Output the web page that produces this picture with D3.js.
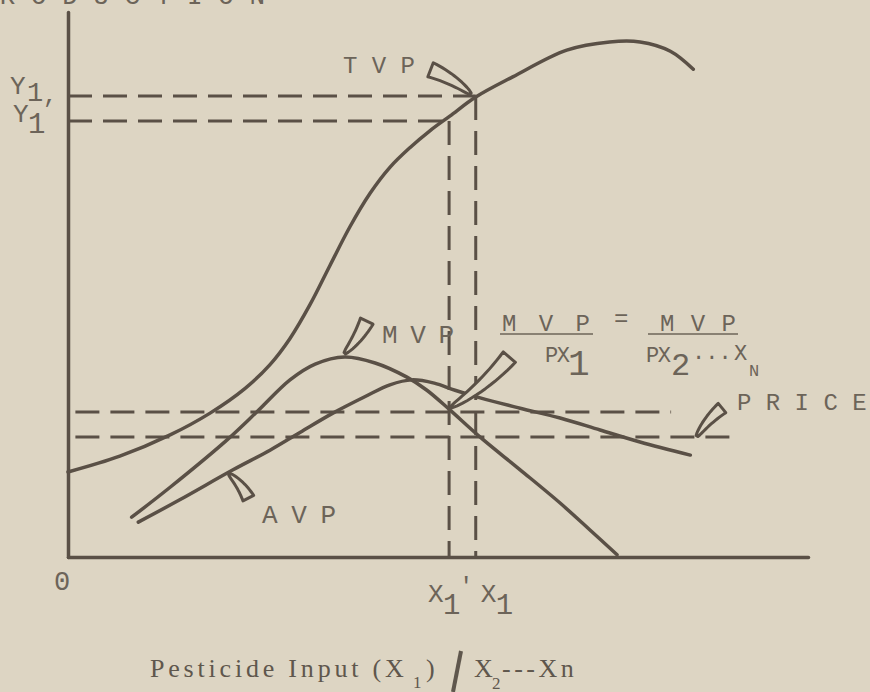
<!DOCTYPE html>
<html>
<head>
<meta charset="utf-8">
<script src="https://cdn.jsdelivr.net/npm/d3@7"></script>
<style>
  body { margin: 0; background: #ddd5c3; }
  svg { display: block; }
  .lbl { font-family: "Liberation Mono", "DejaVu Sans Mono", monospace; fill: #6c6459; }
  .serif { font-family: "Liberation Serif", "DejaVu Serif", serif; fill: #5f574d; }
</style>
</head>
<body>
<div id="chart"></div>
<script>
// curve values (x and y both on a 0-100 scale)
const tvpX = [0, 7.0, 13.8, 19.2, 23.9, 27.3, 30.0, 32.7, 35.4, 38.1, 40.8, 43.5, 46.2, 48.9, 51.6, 55.1, 60.1, 67.4, 73.2, 77.3, 81.4, 84.5]
const tvpY = [15.6, 18.5, 22.4, 26.4, 30.9, 35.3, 40.1, 46.3, 53.5, 60.6, 66.7, 71.5, 75.1, 78.2, 80.9, 84.4, 88.1, 93.0, 94.5, 94.5, 92.8, 89.5]

const mvpX = [8.6, 13.8, 21.5, 25.5, 30.0, 33.4, 37.4, 41.5, 45.8, 48.5, 51.6, 55.7, 61.1, 66.5, 70.5, 74.2]
const mvpY = [7.3, 12.8, 21.5, 26.6, 32.5, 35.4, 36.7, 35.6, 33.0, 30.6, 27.0, 22.0, 16.0, 9.9, 5.0, 0.4]

const avpX = [9.5, 15.1, 22.3, 27.3, 31.4, 35.8, 40.1, 43.5, 46.5, 49.5, 52.3, 55.7, 61.1, 66.5, 71.9, 77.3, 84.1]
const avpY = [6.4, 10.5, 16.0, 19.6, 22.9, 26.4, 29.4, 31.6, 32.5, 31.9, 30.6, 29.2, 27.3, 25.5, 23.3, 21.1, 18.7]

// guide lines: X1', X1 and matching Y1', Y1
const guideNames = ["X1'", "X1"]
const guideX = [51.5, 55.1]
const guideY = [80.0, 84.6]

// the two price lines
const priceY = [26.6, 22.0]
const priceFrom = [1, 1]
const priceTo = [81.5, 89.8]

const width = 870, height = 692
const ink = "#5a5046", bg = "#ddd5c3"

const svg = d3.select("#chart").append("svg")
  .attr("width", width)
  .attr("height", height)

svg.append("rect").attr("width", width).attr("height", height).attr("fill", bg)

const x = d3.scaleLinear().domain([0, 100]).range([68, 808])
const y = d3.scaleLinear().domain([0, 100]).range([557, 12])

// axes, no ticks
svg.append("g")
  .attr("transform", "translate(0," + y(0) + ")")
  .call(d3.axisBottom(x).tickValues([]).tickSizeOuter(0))
svg.append("g")
  .attr("transform", "translate(" + x(0) + ",0)")
  .call(d3.axisLeft(y).tickValues([]).tickSizeOuter(0))
svg.selectAll(".domain")
  .attr("stroke", ink)
  .attr("stroke-width", 3.5)
  .attr("stroke-linecap", "round")

// dashed guides
const dash = "24,11"
guideX.forEach(function (gx, i) {
  svg.append("line")
    .attr("x1", x(0)).attr("x2", x(gx))
    .attr("y1", y(guideY[i])).attr("y2", y(guideY[i]))
    .attr("stroke", ink).attr("stroke-width", 3).attr("stroke-dasharray", dash)
  svg.append("line")
    .attr("x1", x(gx)).attr("x2", x(gx))
    .attr("y1", y(guideY[i])).attr("y2", y(0))
    .attr("stroke", ink).attr("stroke-width", 3).attr("stroke-dasharray", dash)
})
priceY.forEach(function (py, i) {
  svg.append("line")
    .attr("x1", x(priceFrom[i])).attr("x2", x(priceTo[i]))
    .attr("y1", y(py)).attr("y2", y(py))
    .attr("stroke", ink).attr("stroke-width", 3).attr("stroke-dasharray", dash)
})

// curves
const line = d3.line()
  .x(function (d) { return x(d[0]) })
  .y(function (d) { return y(d[1]) })
  .curve(d3.curveCatmullRom.alpha(0.5))

const curves = [d3.zip(tvpX, tvpY), d3.zip(mvpX, mvpY), d3.zip(avpX, avpY)]
svg.selectAll(".curve")
  .data(curves)
  .enter().append("path")
  .attr("class", "curve")
  .attr("d", line)
  .attr("fill", "none")
  .attr("stroke", ink)
  .attr("stroke-width", 3.5)
  .attr("stroke-linecap", "round")

// little pointer tabs
function flag(tip, dx, dy, w, bend) {
  const T = [x(tip[0]), y(tip[1])]
  const E = [T[0] + dx, T[1] + dy]
  const L = Math.hypot(dx, dy)
  const C = [(T[0] + E[0]) / 2 - dy / L * bend, (T[1] + E[1]) / 2 + dx / L * bend]
  let left = [], right = []
  for (let i = 0; i <= 14; i++) {
    const t = i / 14
    const px = (1 - t) * (1 - t) * T[0] + 2 * (1 - t) * t * C[0] + t * t * E[0]
    const py = (1 - t) * (1 - t) * T[1] + 2 * (1 - t) * t * C[1] + t * t * E[1]
    const tx = 2 * (1 - t) * (C[0] - T[0]) + 2 * t * (E[0] - C[0])
    const ty = 2 * (1 - t) * (C[1] - T[1]) + 2 * t * (E[1] - C[1])
    const tl = Math.hypot(tx, ty)
    const h = 1 + (w / 2 - 1) * Math.pow(t, 0.7)
    left.push([px - ty / tl * h, py + tx / tl * h])
    right.push([px + ty / tl * h, py - tx / tl * h])
  }
  const pts = left.concat(right.reverse())
  svg.append("path")
    .attr("d", "M" + pts.map(function (p) { return p.join(",") }).join("L") + "Z")
    .attr("fill", bg)
    .attr("stroke", ink)
    .attr("stroke-width", 3)
    .attr("stroke-linejoin", "round")
}
flag([54.4, 85.0], -40, -24, 15, 4)   // TVP
flag([37.4, 37.4], 22, -32, 14, 3)    // MVP
flag([21.8, 15.2], 19, 24, 12, -3)    // AVP
flag([51.8, 27.5], 58, -50, 16, 6)    // MVP = MVP
flag([85.0, 22.2], 25, -28, 12, -3)   // PRICE

// labels
function label(tx, ty, str, size, ls, cls) {
  return svg.append("text")
    .attr("class", cls || "lbl")
    .attr("x", tx).attr("y", ty)
    .attr("font-size", size)
    .attr("letter-spacing", ls || 0)
    .text(str)
}

label(265, 4, "P R O D U C T I O N", 26, 0).attr("text-anchor", "end")

label(10, 94, "Y", 26, 0)
label(27, 101, "1", 27, 0)
label(43, 103, ",", 24, 0)
label(13, 122, "Y", 26, 0)
label(28, 133, "1", 29, 0)

label(54, 590, "0", 27, 0)

// X1' and X1 under the axis
label(x(guideX[0]) - 21, 602, "X", 26, 0)
label(x(guideX[0]) - 6, 614, "1", 29, 0)
label(x(guideX[0]) + 10, 594, "'", 24, 0)
label(x(guideX[1]) + 5, 602, "X", 26, 0)
label(x(guideX[1]) + 20, 614, "1", 29, 0)

label(343, 73, "T V P", 24, 0)
label(382, 343, "M V P", 26, -1.5)
label(262, 523, "A V P", 26, -1)
label(737, 410, "P R I C E", 24, 0)

// MVP / PX1 = MVP / PX2...XN
label(502, 331, "M V P", 24, 4)
svg.append("line").attr("x1", 500).attr("x2", 593).attr("y1", 334).attr("y2", 334)
  .attr("stroke", "#6c6459").attr("stroke-width", 1.6)
label(545, 362, "PX", 22, -1.5)
label(568, 375, "1", 36, 0)
label(614, 326, "=", 24, 0)
label(660, 331, "M V P", 24, 1)
svg.append("line").attr("x1", 648).attr("x2", 738).attr("y1", 334).attr("y2", 334)
  .attr("stroke", "#6c6459").attr("stroke-width", 1.6)
label(646, 362, "PX", 22, -1.5)
label(671, 375, "2", 32, 0)
label(692, 359, "...", 22, 0)
label(734, 360, "X", 22, 0)
label(749, 376, "N", 17, 0)

// x axis title
label(150, 677, "Pesticide Input (X", 26, 3.8, "serif")
label(413, 688, "1", 17, 0, "serif")
label(426, 677, ")", 26, 0, "serif")
svg.append("line").attr("x1", 461).attr("y1", 651).attr("x2", 453).attr("y2", 692)
  .attr("stroke", "#5f574d").attr("stroke-width", 4)
label(474, 677, "X", 26, 0, "serif")
label(492, 689, "2", 17, 0, "serif")
label(502, 677, "---Xn", 26, 3.5, "serif")
</script>
</body>
</html>
